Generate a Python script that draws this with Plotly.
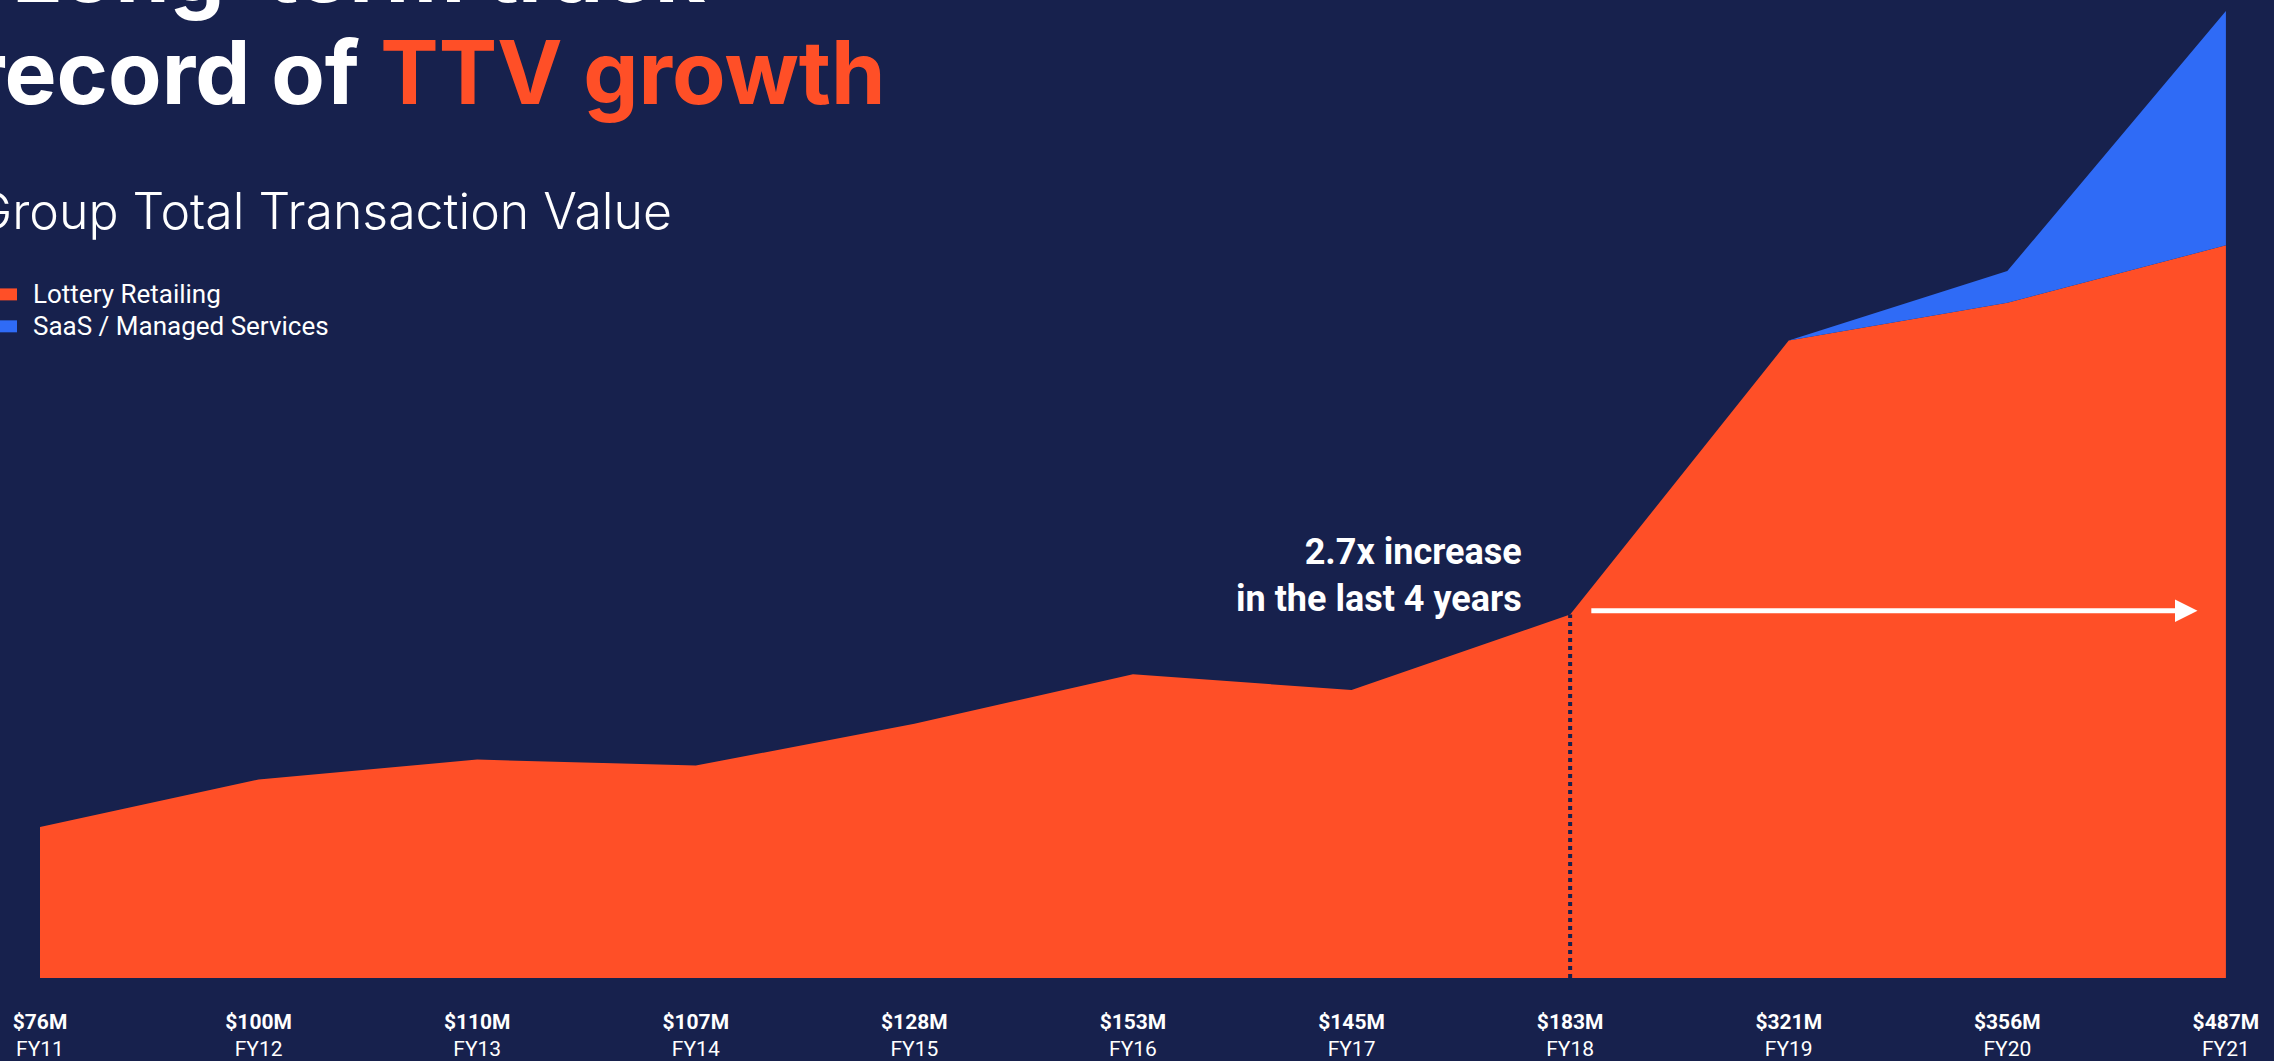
import plotly.graph_objects as go

# ---- data -------------------------------------------------------------
years = ["FY11", "FY12", "FY13", "FY14", "FY15", "FY16",
         "FY17", "FY18", "FY19", "FY20", "FY21"]
lottery_retailing = [76, 100, 110, 107, 128, 153, 145, 183, 321, 340, 369]
saas_managed = [0, 0, 0, 0, 0, 0, 0, 0, 0, 16, 118]
totals = [a + b for a, b in zip(lottery_retailing, saas_managed)]

# ---- styling ----------------------------------------------------------
W, H = 2274, 1061
BG = "#17214d"
ORANGE = "#ff4f27"
BLUE = "#2f6bf6"
WHITE = "#ffffff"
M_L, M_R, M_T, M_B = 0, 0, 0, 81
PLOT_W = W - M_L - M_R
PLOT_H = H - M_T - M_B


def px_x(p):
    """pixel column -> paper x"""
    return (p - M_L) / PLOT_W


def px_y(p):
    """pixel row -> paper y"""
    return (H - M_B - p) / PLOT_H


xs = list(range(len(years)))
tick_text = [f"<b>${t}M</b><br>{y}" for t, y in zip(totals, years)]

fig = go.Figure()

fig.add_trace(go.Scatter(
    x=xs, y=lottery_retailing, name="Lottery Retailing",
    stackgroup="ttv", mode="lines", line=dict(width=0, color=ORANGE),
    fillcolor=ORANGE, hoverinfo="skip",
))
fig.add_trace(go.Scatter(
    x=xs, y=saas_managed, name="SaaS / Managed Services",
    stackgroup="ttv", mode="lines", line=dict(width=0, color=BLUE),
    fillcolor=BLUE, hoverinfo="skip",
))

# dotted marker line at FY18
i18 = years.index("FY18")
fig.add_trace(go.Scatter(
    x=[i18, i18], y=[0, totals[i18]], mode="lines",
    line=dict(color=BG, width=4, dash="4px,4px"), hoverinfo="skip",
))

annotations = []

# growth arrow from FY18 to FY21
annotations.append(dict(
    x=9.87, y=185, ax=7.09, ay=185, xref="x", yref="y", axref="x", ayref="y",
    text="", showarrow=True, arrowhead=2, arrowsize=0.9, arrowwidth=5,
    arrowcolor=WHITE,
))
annotations.append(dict(
    x=px_x(1524), y=px_y(577), xref="paper", yref="paper",
    xanchor="right", yanchor="middle", align="right", showarrow=False,
    text="<b>2.7x increase<br>in the last 4 years</b>",
    font=dict(family="Roboto", size=36, color=WHITE),
))

# title block
title_font = dict(family="Inter", size=87.5, color=WHITE, weight=700)
annotations.append(dict(
    x=px_x(708), y=px_y(-30), xref="paper", yref="paper",
    xanchor="right", yanchor="middle", showarrow=False,
    text="Long-term track", font=title_font,
))
annotations.append(dict(
    x=px_x(888), y=px_y(72), xref="paper", yref="paper",
    xanchor="right", yanchor="middle", showarrow=False,
    text=f"record of <span style='color:{ORANGE}'>TTV growth</span>",
    font=title_font,
))
annotations.append(dict(
    x=px_x(674), y=px_y(211), xref="paper", yref="paper",
    xanchor="right", yanchor="middle", showarrow=False,
    text="Group Total Transaction Value",
    font=dict(family="Inter", size=50, color=WHITE, weight=300),
))

# legend
shapes = []
legend_rows = [("Lottery Retailing", ORANGE, 295), ("SaaS / Managed Services", BLUE, 327)]
for label, col, cy in legend_rows:
    shapes.append(dict(
        type="rect", xref="paper", yref="paper",
        x0=px_x(-10), x1=px_x(17), y0=px_y(cy - 6), y1=px_y(cy + 6),
        fillcolor=col, line=dict(width=0),
    ))
    annotations.append(dict(
        x=px_x(31), y=px_y(cy), xref="paper", yref="paper",
        xanchor="left", yanchor="middle", showarrow=False,
        text=label, font=dict(family="Roboto", size=26, color=WHITE),
    ))

fig.update_layout(
    width=W, height=H,
    margin=dict(l=M_L, r=M_R, t=M_T, b=M_B, pad=0),
    paper_bgcolor=BG, plot_bgcolor=BG,
    showlegend=False,
    annotations=annotations, shapes=shapes,
    xaxis=dict(
        range=[-0.183, 10.22], tickmode="array", tickvals=xs, ticktext=tick_text,
        showgrid=False, zeroline=False, showline=False, ticks="",
        tickfont=dict(family="Roboto", size=21, color=WHITE),
        ticklabelstandoff=29,
        fixedrange=True,
    ),
    yaxis=dict(range=[0, 492.5], visible=False, fixedrange=True),
)

fig.write_html("out.html", config={"displayModeBar": False})
